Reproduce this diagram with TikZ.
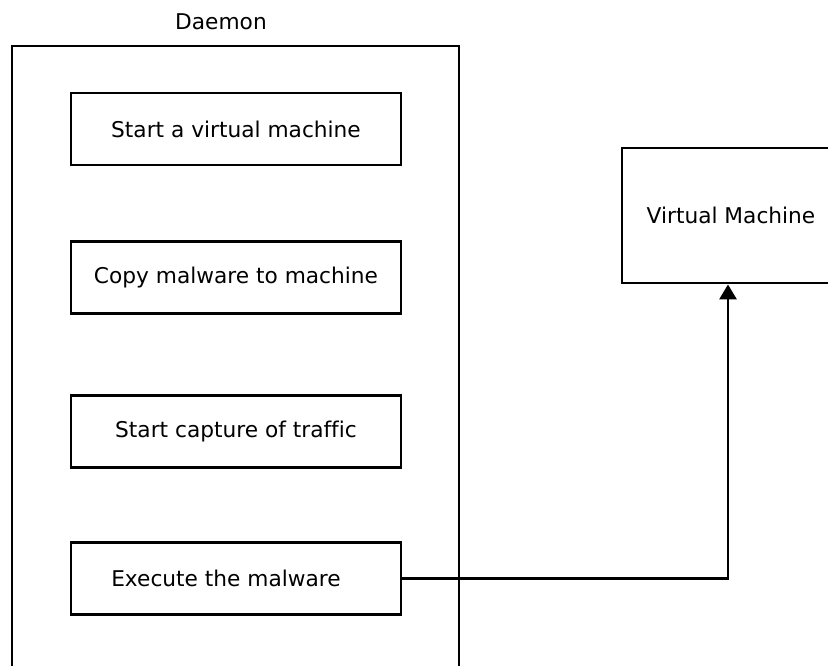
\documentclass[tikz,border=0pt]{standalone}
\usepackage{fontspec}
\setmainfont{DejaVu Sans}[Ligatures=NoCommon]
\usetikzlibrary{arrows.meta}

\begin{document}
\begin{tikzpicture}[
  x=1pt, y=-1pt,
  every node/.style={font=\fontsize{21.7}{26}\selectfont},
  stepbox/.style={draw, line width=2.8pt, minimum width=330pt, minimum height=72pt, inner sep=0pt},
  frame/.style={draw, line width=2.8pt, inner sep=0pt},
  link/.style={line width=2.8pt, -{Triangle[length=15pt, width=17pt]}}
]
\useasboundingbox (0,0) rectangle (828,666);
\clip (0,0) rectangle (828,666);

% daemon container, runs off the bottom edge
\node[frame, minimum width=447pt, minimum height=654pt] (daemon) at (235.5,373) {};
\node (daemontitle) at (221,22) {Daemon};

\node[stepbox] (startvm) at (236,129) {Start a virtual machine};
\node[stepbox] (copymw) at (236,277.5) {Copy malware to machine};
\node[stepbox] (capture) at (236,431.5) {Start capture of traffic};
\node[stepbox] (execmw) at (236,578.5) {\hspace*{-20pt}Execute the malware};

% virtual machine, cut by the right edge
\node[frame, minimum width=212pt, minimum height=135pt] (vm) at (728,215.5) {};
\node (vmtitle) at (731,215) {Virtual Machine};

\draw[link] (execmw.east) -| (vm.south);
\end{tikzpicture}
\end{document}
